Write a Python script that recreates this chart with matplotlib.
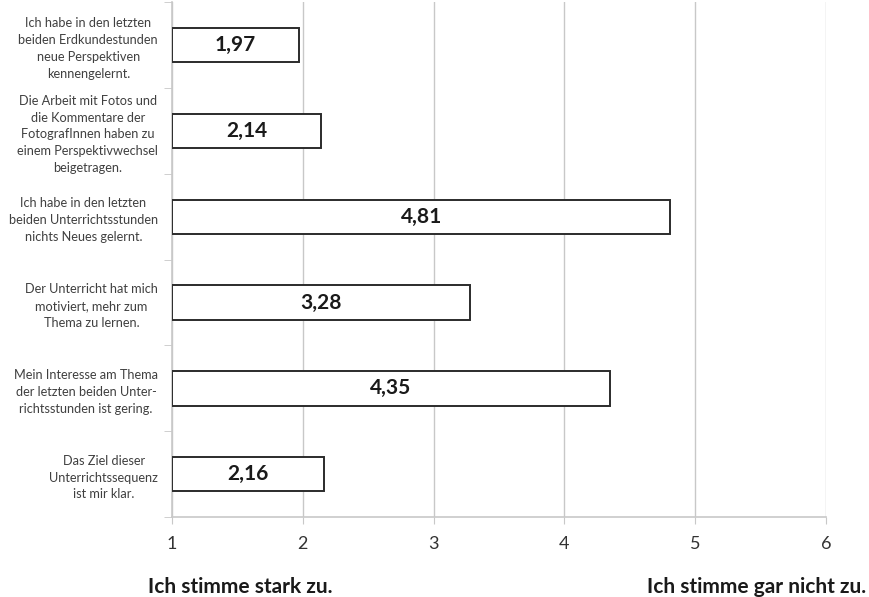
import matplotlib.pyplot as plt
import matplotlib as mpl
import numpy as np

mpl.rcParams.update({"font.family": ["Lato", "DejaVu Sans"]})

statements = [
    "Ich habe in den letzten\nbeiden Erdkundestunden\nneue Perspektiven\nkennengelernt.",
    "Die Arbeit mit Fotos und\ndie Kommentare der\nFotografInnen haben zu\neinem Perspektivwechsel\nbeigetragen.",
    "Ich habe in den letzten\nbeiden Unterrichtsstunden\nnichts Neues gelernt.",
    "Der Unterricht hat mich\nmotiviert, mehr zum\nThema zu lernen.",
    "Mein Interesse am Thema\nder letzten beiden Unter-\nrichtsstunden ist gering.",
    "Das Ziel dieser\nUnterrichtssequenz\nist mir klar.",
]
means = [1.97, 2.14, 4.81, 3.28, 4.35, 2.16]
xticks = [1, 2, 3, 4, 5, 6]
left_label = "Ich stimme stark zu."
right_label = "Ich stimme gar nicht zu."

GRID = "#c8c8c8"

fig = plt.figure(figsize=(8.7, 5.97), dpi=100)
ax = fig.add_axes([0.1977, 0.134, 0.7517, 0.862])

y = np.arange(len(means))
ax.barh(y, [m - 1 for m in means], left=1, height=0.4,
        color="white", edgecolor="#2b2b2b", linewidth=1.4, zorder=3)
for yi, m in zip(y, means):
    ax.text(1 + (m - 1) / 2, yi, f"{m:.2f}".replace(".", ","),
            ha="center", va="center", fontsize=15, fontweight="bold",
            color="#1a1a1a", zorder=4)

ax.set_xlim(1, 6)
ax.set_ylim(len(means) - 0.5, -0.5)
ax.set_xticks(xticks)
ax.set_xticklabels([str(t) for t in xticks], fontsize=13, color="#333333")
ax.xaxis.grid(True, color=GRID, lw=1, zorder=0)
ax.tick_params(axis="x", length=5, color=GRID, pad=9)

ax.set_yticks(y)
ax.set_yticklabels(statements, fontsize=9.2, color="#404040",
                   multialignment="center", linespacing=1.48)
ax.set_yticks(np.arange(len(means) + 1) - 0.5, minor=True)
ax.tick_params(axis="y", which="major", length=0, pad=10)
ax.tick_params(axis="y", which="minor", length=6, color=GRID)

for s in ("top", "right"):
    ax.spines[s].set_visible(False)
for s in ("left", "bottom"):
    ax.spines[s].set_color(GRID)
    ax.spines[s].set_linewidth(1.2)

fig.text(240 / 870, 1 - 587 / 597, left_label, ha="center", va="center",
         fontsize=15, fontweight="bold", color="#1a1a1a")
fig.text(866 / 870, 1 - 587 / 597, right_label, ha="right", va="center",
         fontsize=15, fontweight="bold", color="#1a1a1a")

fig.savefig("out.png", dpi=100)
